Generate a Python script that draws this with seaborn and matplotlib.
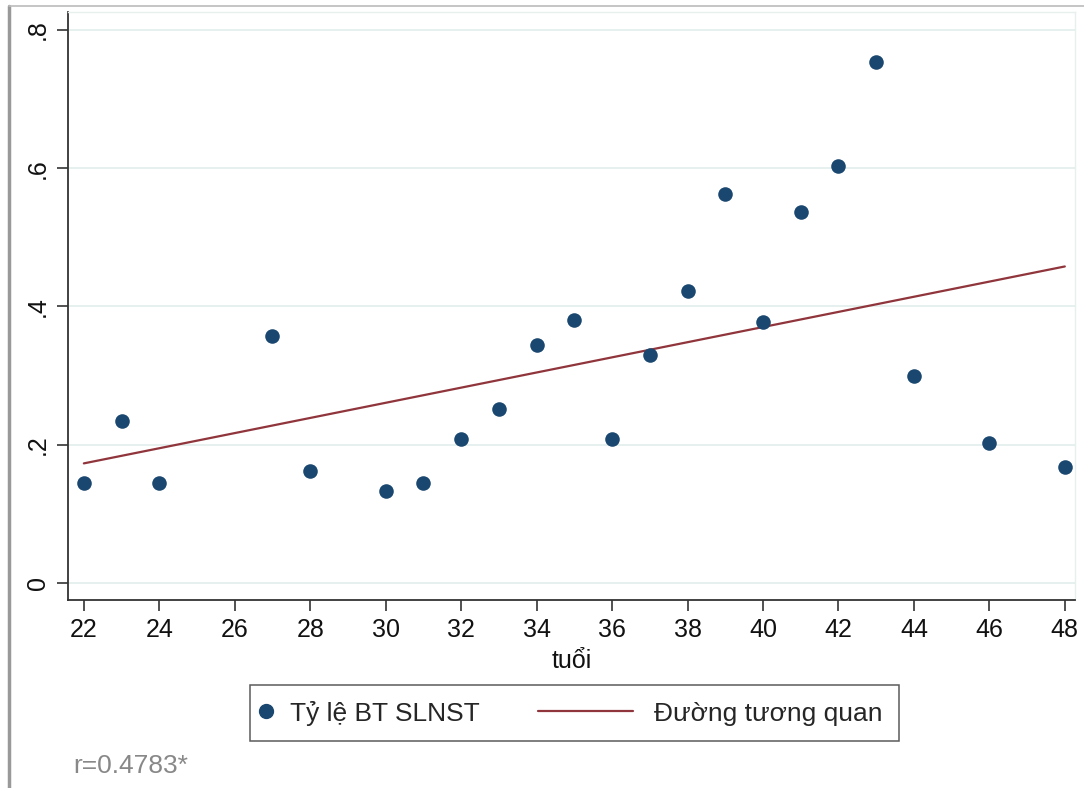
import numpy as np
import pandas as pd
import matplotlib
matplotlib.use("Agg")
import matplotlib.pyplot as plt
import seaborn as sns
from matplotlib.lines import Line2D
from matplotlib.legend_handler import HandlerLine2D

# ================= DADOS =================
tuoi = [22, 23, 24, 27, 28, 30, 31, 32, 33, 34, 35, 36, 37, 38, 39, 40, 41, 42, 43, 44, 46, 48]
ty_le = [0.145, 0.235, 0.145, 0.357, 0.162, 0.133, 0.145, 0.209, 0.252, 0.345, 0.380,
         0.209, 0.330, 0.423, 0.562, 0.378, 0.536, 0.603, 0.754, 0.299, 0.203, 0.168]
y_ticks = [0, 0.2, 0.4, 0.6, 0.8]
y_labels = ["0", ".2", ".4", ".6", ".8"]
x_ticks = list(range(22, 49, 2))
nomes_legenda = ["Tỷ lệ BT SLNST", "Đường tương quan"]
texto_r = "r=0.4783*"

NAVY = "#1a476f"
MAROON = "#90353b"


class HandlerPosicao(HandlerLine2D):
    """Handler que posiciona linha/marcador em unidades de fontsize (estilo Stata)."""
    def __init__(self, x0, x1, xm, **kw):
        super().__init__(**kw)
        self.x0, self.x1, self.xm = x0, x1, xm

    def get_xdata(self, legend, xdescent, ydescent, width, height, fontsize):
        xdata = [-xdescent + self.x0 * fontsize, -xdescent + self.x1 * fontsize]
        return xdata, [-xdescent + self.xm * fontsize]


sns.set_theme(style="white")
plt.rcParams['font.family'] = ['Liberation Sans', 'DejaVu Sans']

df = pd.DataFrame({'tuoi': tuoi, 'ty_le': ty_le})

fig = plt.figure(figsize=(10.84, 7.88), dpi=100)
ax = fig.add_axes([68 / 1084, 188 / 788, 1007 / 1084, 588 / 788])

sns.scatterplot(data=df, x='tuoi', y='ty_le', ax=ax, color=NAVY, s=110,
                edgecolor=NAVY, linewidth=0, zorder=3)
sns.regplot(data=df, x='tuoi', y='ty_le', ax=ax, scatter=False, ci=None,
            line_kws={'color': MAROON, 'linewidth': 1.6, 'zorder': 2})

ax.set_xlim(21.58, 48.27)
ax.set_ylim(-0.0246, 0.826)

ax.set_yticks(y_ticks)
ax.set_yticklabels(y_labels, rotation=90, va='center', fontsize=18)
ax.set_xticks(x_ticks)
ax.set_xticklabels([str(t) for t in x_ticks], fontsize=18)
ax.tick_params(axis='both', direction='out', length=8, width=1.2, color='#333333',
               labelcolor='#111111', pad=5, left=True, bottom=True)

for yv in y_ticks:
    ax.axhline(yv, color='#e1edeb', linewidth=1.2, zorder=0)

for lado in ['left', 'bottom']:
    ax.spines[lado].set_color('#333333')
    ax.spines[lado].set_linewidth(1.3)
for lado in ['top', 'right']:
    ax.spines[lado].set_color('#e8efef')
    ax.spines[lado].set_linewidth(1.0)

ax.set_xlabel("tuổi", fontsize=18, color='#111111', labelpad=5)
ax.set_ylabel("")

# Legenda
h_ponto = Line2D([], [], marker='o', linestyle='none', color=NAVY, markersize=10)
h_linha = Line2D([], [], color=MAROON, linewidth=1.6)
leg = fig.legend([h_ponto, h_linha], nomes_legenda, ncol=2,
                 loc='center', bbox_to_anchor=(574.5 / 1084, 1 - 713 / 788),
                 fontsize=19, frameon=True, fancybox=False, edgecolor='#333333',
                 handlelength=0.45, columnspacing=5.72, handletextpad=0.45,
                 borderpad=0.6, borderaxespad=0,
                 handler_map={h_ponto: HandlerPosicao(0, 0, 0.0, numpoints=1),
                              h_linha: HandlerPosicao(-3.52, 0.1, 0, numpoints=1)})
leg.get_frame().set_linewidth(1.1)

fig.text(73 / 1084, 1 - 766 / 788, texto_r, fontsize=19, color='#888888',
         va='center', ha='left')

# Borda do gráfico
fig.add_artist(Line2D([9 / 1084, 9 / 1084], [0, 1 - 6 / 788], transform=fig.transFigure,
                      color='#999999', linewidth=2.5))
fig.add_artist(Line2D([9 / 1084, 1], [1 - 6 / 788, 1 - 6 / 788], transform=fig.transFigure,
                      color='#bbbbbb', linewidth=1.2))

fig.savefig("out.png", dpi=100)
